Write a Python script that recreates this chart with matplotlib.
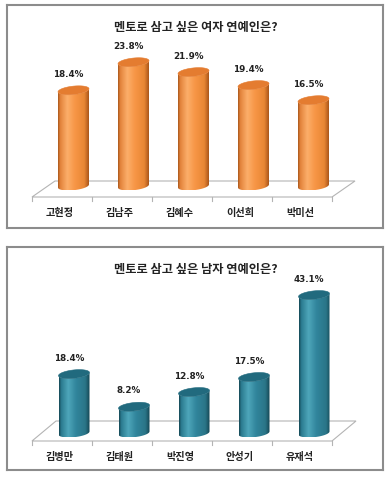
import numpy as np
import matplotlib
matplotlib.use('Agg')
import matplotlib.pyplot as plt
from matplotlib.patches import Polygon
from matplotlib.colors import LinearSegmentedColormap

# data
women_title = '멘토로 삼고 싶은 여자 연예인은?'
women_names = ['고현정', '김남주', '김혜수', '이선희', '박미선']
women_values = [18.4, 23.8, 21.9, 19.4, 16.5]

men_title = '멘토로 삼고 싶은 남자 연예인은?'
men_names = ['김병만', '김태원', '박진영', '안성기', '유재석']
men_values = [18.4, 8.2, 12.8, 17.5, 43.1]

KR = ['Noto Sans CJK KR', 'DejaVu Sans']
PX_PER_CAT = 60.0

orange_cmap = LinearSegmentedColormap.from_list('orange', [
    (0.0, '#a8561a'), (0.07, '#e2823a'), (0.3, '#fcae6a'),
    (0.55, '#f79646'), (0.85, '#e88634'), (1.0, '#a9551a')])
teal_cmap = LinearSegmentedColormap.from_list('teal', [
    (0.0, '#134552'), (0.07, '#2a7a8f'), (0.3, '#4ea6ba'),
    (0.55, '#31859c'), (0.85, '#2a7588'), (1.0, '#134552')])


def ellipse_pts(cx, cy, k, t):
    # half-width 15.5px, half-height 4px, small tilt (shear)
    px = 15.5 * np.cos(t)
    py = 4.2 * np.sin(t) + 0.1 * px
    return cx + px / PX_PER_CAT, cy + py / k


def cylinder(ax, cx, v, k, cmap, top_color):
    t_low = np.linspace(np.pi, 2 * np.pi, 40)
    bx, by = ellipse_pts(cx, 0, k, t_low)
    tx, ty = ellipse_pts(cx, v, k, t_low[::-1])
    verts = np.column_stack([np.r_[bx, tx], np.r_[by, ty]])
    body = Polygon(verts, closed=True, fill=False, lw=0, zorder=3)
    ax.add_patch(body)
    grad = np.linspace(0, 1, 256).reshape(1, -1)
    im = ax.imshow(grad, cmap=cmap, aspect='auto', origin='lower',
                   extent=[verts[:, 0].min(), verts[:, 0].max(),
                           verts[:, 1].min(), verts[:, 1].max()],
                   zorder=3, interpolation='bilinear')
    im.set_clip_path(body)
    t_all = np.linspace(0, 2 * np.pi, 80)
    ex, ey = ellipse_pts(cx, v, k, t_all)
    ax.add_patch(Polygon(np.column_stack([ex, ey]), closed=True,
                         facecolor=top_color, edgecolor=top_color,
                         lw=0.4, zorder=4))


def panel(rect_px, title, names, values, base_px, k, floor, cmap, top_color):
    x0, y0, x1, y1 = rect_px
    ax = fig.add_axes([x0 / 389, 1 - y1 / 480, (x1 - x0) / 389, (y1 - y0) / 480])
    front_px, back_px, depth_dx = floor
    front = -(front_px - base_px) / k
    back = (base_px - back_px) / k
    ddx = depth_dx / PX_PER_CAT
    n = len(names)
    xs = np.arange(n)

    # floor
    fl = np.array([[-0.5, front], [n - 0.5, front],
                   [n - 0.5 + ddx, back], [-0.5 + ddx, back]])
    ax.add_patch(Polygon(fl, closed=True, facecolor='white',
                         edgecolor='#b4b4b4', lw=0.8, zorder=1))
    for b in np.arange(n + 1) - 0.5:
        ax.plot([b, b], [front, front - 4 / k], color='#b4b4b4', lw=0.8, zorder=1)

    for i, v in zip(xs, values):
        cx = i + ddx / 2
        cylinder(ax, cx, v, k, cmap, top_color)
        ax.text(cx - 5 / PX_PER_CAT, v + 16 / k, f'{v:.1f}%', ha='center',
                va='center', fontsize=6.3, fontweight='bold', color='#222222')
        ax.text(i - 2 / PX_PER_CAT, front - 16 / k, names[i], ha='center',
                va='center', fontsize=7.3, fontweight='bold', color='#222222',
                family=KR)

    ax.text(0.503, 0.90, title, transform=ax.transAxes, ha='center',
            va='center', fontsize=8.8, fontweight='bold', color='#222222',
            family=KR)

    ax.set_xlim((x0 - 62) / PX_PER_CAT, (x1 - 62) / PX_PER_CAT)
    ax.set_ylim(-(y1 - base_px) / k, (base_px - y0) / k)
    ax.set_xticks([])
    ax.set_yticks([])
    for s in ax.spines.values():
        s.set_color('#8c8c8c')
        s.set_linewidth(1.5)
    return ax


fig = plt.figure(figsize=(3.89, 4.8), dpi=100)
fig.patch.set_facecolor('white')

panel((7, 5, 383, 228), women_title, women_names, women_values,
      186, 5.2, (197, 181, 23), orange_cmap, '#e47c30')
panel((7, 247, 383, 470), men_title, men_names, men_values,
      433, 3.2, (441, 421, 24), teal_cmap, '#216a7e')

fig.savefig('out.png', dpi=100, facecolor='white')
